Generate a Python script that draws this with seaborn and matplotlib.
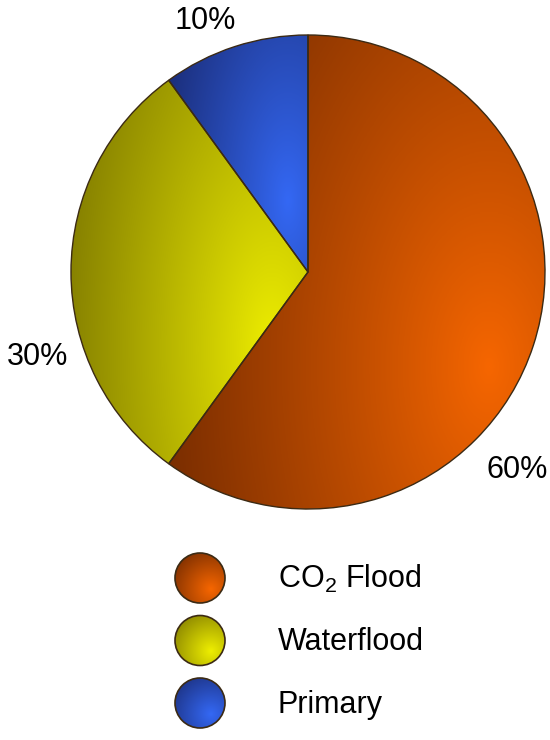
import numpy as np
import matplotlib
matplotlib.use("Agg")
import matplotlib.pyplot as plt
from matplotlib.patches import Circle
import seaborn as sns

# Recovery method shares (percent)
categories = ["CO$_\\mathregular{2}$ Flood", "Waterflood", "Primary"]
shares = [60, 30, 10]

# Highlight / shadow tones for each slice's shading
bright = ["#f66600", "#eeee00", "#3468f4"]
dark = ["#6a2600", "#7a7400", "#1a2b74"]

sns.set_theme(style="white")
plt.rcParams["font.family"] = ["Liberation Sans", "DejaVu Sans"]
plt.rcParams["mathtext.fontset"] = "custom"
plt.rcParams["mathtext.rm"] = "Liberation Sans"

W, H = 550, 740
fig = plt.figure(figsize=(W / 100, H / 100), dpi=100)
ax = fig.add_axes([0, 0, 1, 1])

cx, cy, R = 308, H - 272, 237
edge = "#3b2a14"

wedges, _ = ax.pie(
    shares, colors=bright, startangle=90, counterclock=False,
    center=(cx, cy), radius=R,
    wedgeprops=dict(edgecolor=edge, linewidth=1.0),
)
ax.set_xlim(0, W)
ax.set_ylim(0, H)
ax.set_aspect("equal")
ax.axis("off")


def shade(patch, c_hi, c_lo, fx=0.85, fy=0.3, ky=0.7, gamma=0.95):
    """Fill a patch with an elliptical gradient, bright near (fx, fy) of its bbox."""
    bb = patch.get_path().get_extents(patch.get_patch_transform())
    cmap = sns.blend_palette([c_hi, c_lo], as_cmap=True)
    n = 400
    X, Y = np.meshgrid(np.linspace(0, 1, n), np.linspace(0, 1, n))
    d = np.hypot(X - fx, (Y - fy) * ky)
    dmax = max(np.hypot(a - fx, (b - fy) * ky) for a in (0, 1) for b in (0, 1))
    im = ax.imshow((d / dmax) ** gamma, cmap=cmap, vmin=0, vmax=1,
                   extent=(bb.x0, bb.x1, bb.y0, bb.y1), origin="lower",
                   interpolation="bilinear", zorder=1.5)
    im.set_clip_path(patch)
    patch.set_facecolor("none")
    patch.set_zorder(3)


for w, hi, lo in zip(wedges, bright, dark):
    shade(w, hi, lo)
ax.set_xlim(0, W)
ax.set_ylim(0, H)

# Percentage labels, placed around the rim (offsets in units of radius)
label_dx = [0.882, -1.143, -0.435]
label_dy = [-0.835, -0.359, 1.059]
for v, dx, dy in zip(shares, label_dx, label_dy):
    ax.text(cx + dx * R, cy + dy * R, f"{v:.0f}%", ha="center", va="center",
            fontsize=22, color="black")

# Legend: shaded bullets with names
leg_x, leg_y0, leg_step, leg_r = 200, H - 578, 62.5, 25
for i, (name, hi, lo) in enumerate(zip(categories, bright, dark)):
    y = leg_y0 - i * leg_step
    c = Circle((leg_x, y), leg_r, facecolor=hi, edgecolor=edge, linewidth=1.2)
    ax.add_patch(c)
    shade(c, hi, lo, fx=0.72, fy=0.28, ky=1.0, gamma=1.0)
    ax.text(278, y - 10, name, ha="left", va="baseline", fontsize=22,
            color="black")

fig.savefig("out.png", dpi=100, facecolor="white")
